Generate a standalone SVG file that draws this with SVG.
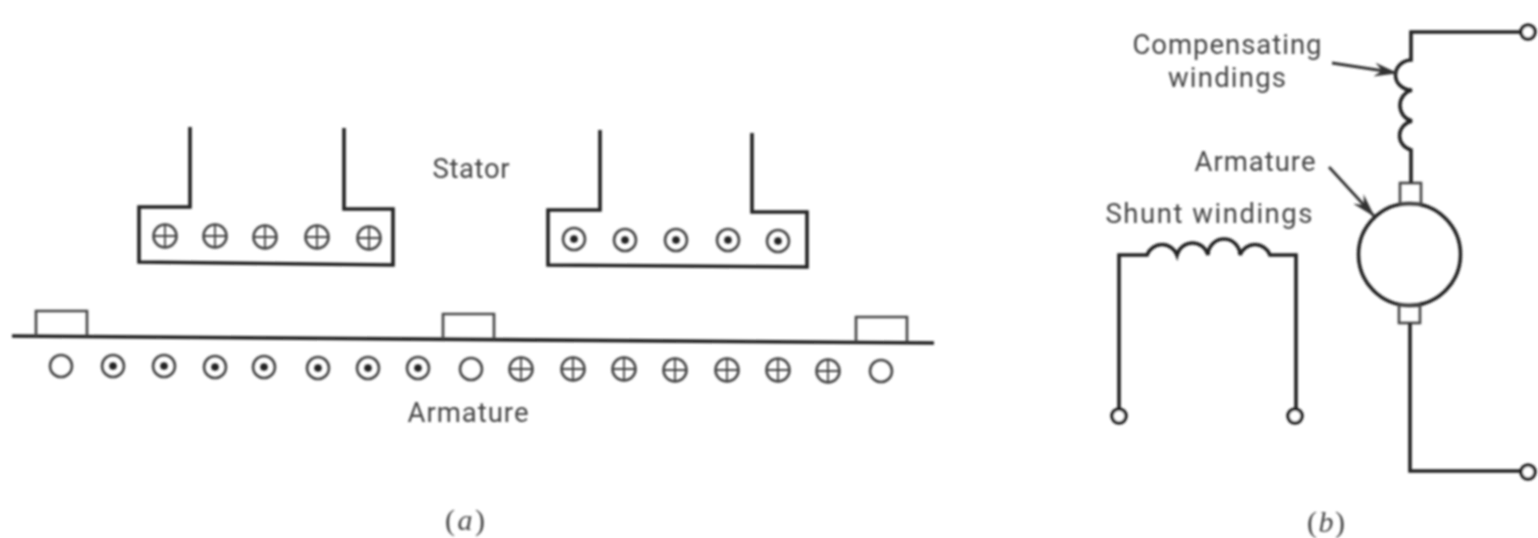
<svg xmlns="http://www.w3.org/2000/svg" width="1538" height="538" viewBox="0 0 1538 538">
<style>
.w{fill:none;stroke:#222;stroke-width:3.6;stroke-linejoin:miter}
.c{fill:none;stroke:#444;stroke-width:2.6}
.d{fill:#222}
.x{fill:none;stroke:#444;stroke-width:1.8}
.t{fill:#444;font-family:Roboto,"Liberation Sans",Arial,sans-serif;font-size:27.5px;text-anchor:middle}
.s{fill:#444;font-family:"Liberation Serif",serif;font-size:30px;text-anchor:middle}
.i{font-style:italic}
.arr{fill:none;stroke:#333;stroke-width:2.8}
.term{fill:#fff;stroke:#222;stroke-width:3.6}
</style>
<defs>
<g id="o"><circle r="11" class="c"/></g>
<g id="dot"><circle r="11" class="c"/><circle r="3.8" class="d"/></g>
<g id="plus"><circle r="11.5" class="c"/><path class="x" d="M-11,0H11M0,-11V11"/></g>
<marker id="ah" viewBox="0 0 24 14" refX="23" refY="7" markerWidth="24" markerHeight="14" markerUnits="userSpaceOnUse" orient="auto"><path d="M0,0L24,7L0,14L8,7Z" fill="#333"/></marker>
<filter id="soft" x="-2%" y="-2%" width="104%" height="104%"><feGaussianBlur stdDeviation="0.8"/></filter>
</defs>
<rect width="1538" height="538" fill="#fff"/>
<g filter="url(#soft)">
<g id="stator-left">
<path class="w" d="M190,127V207H139V262L393,265V209H344V128"/>
<use href="#plus" x="165" y="236"/><use href="#plus" x="215" y="236"/><use href="#plus" x="265" y="237"/><use href="#plus" x="317" y="237"/><use href="#plus" x="369" y="238"/>
</g>
<g id="stator-right">
<path class="w" d="M600,130V210H548V265L807,267V212H752V133"/>
<use href="#dot" x="574" y="239"/><use href="#dot" x="625" y="240"/><use href="#dot" x="676" y="240"/><use href="#dot" x="728" y="240"/><use href="#dot" x="778" y="241"/>
</g>
<g id="stator-label"><text class="t" x="471" y="178" textLength="77">Stator</text></g>
<g id="armature-bar">
<path class="w" d="M12,336L934,343"/>
<path class="c" d="M36,336V311H87V336M443,339V314H494V339M856,342V317H907V342"/>
</g>
<g id="armature-conductors">
<use href="#o" x="61" y="366"/>
<use href="#dot" x="113" y="366"/><use href="#dot" x="164" y="366"/><use href="#dot" x="215" y="367"/><use href="#dot" x="264" y="367"/><use href="#dot" x="318" y="368"/><use href="#dot" x="368" y="368"/><use href="#dot" x="418" y="368"/>
<use href="#o" x="471" y="369"/>
<use href="#plus" x="521" y="369"/><use href="#plus" x="573" y="369"/><use href="#plus" x="624" y="369"/><use href="#plus" x="675" y="370"/><use href="#plus" x="727" y="370"/><use href="#plus" x="778" y="370"/><use href="#plus" x="828" y="371"/>
<use href="#o" x="881" y="371"/>
</g>
<g id="armature-label"><text class="t" x="468" y="422" textLength="121">Armature</text></g>
<g id="caption-a"><text class="s" x="465" y="530" textLength="40">(<tspan class="i">a</tspan>)</text></g>
<g id="compensating-label"><text class="t" x="1227" y="54" textLength="189">Compensating</text><text class="t" x="1227" y="87" textLength="118">windings</text></g>
<g id="armature-b-label"><text class="t" x="1255" y="171" textLength="121">Armature</text></g>
<g id="shunt-label"><text class="t" x="1209" y="223" textLength="207">Shunt windings</text></g>
<g id="caption-b"><text class="s" x="1326" y="532" textLength="38">(<tspan class="i">b</tspan>)</text></g>
<g id="armature-motor">
<circle cx="1409.5" cy="254.5" r="51" fill="none" stroke="#222" stroke-width="3.6"/>
<rect x="1400" y="183" width="21" height="21" class="c"/>
<rect x="1399" y="305" width="21" height="18" class="c"/>
</g>
<g id="terminal-top"><circle class="term" cx="1528" cy="32" r="7"/></g>
<g id="terminal-bottom"><circle class="term" cx="1528" cy="472" r="7"/></g>
<g id="terminal-shunt-left"><circle class="term" cx="1119" cy="416" r="7"/></g>
<g id="terminal-shunt-right"><circle class="term" cx="1295" cy="416" r="7"/></g>
<g id="connectors">
<path class="w" d="M1521,32H1411V60A16,15 0 0 0 1412,90A16,16 0 0 0 1412,121A16,15 0 0 0 1411,150V183"/>
<path class="w" d="M1410,323V471H1521"/>
<path class="w" d="M1119,409V255H1147A16,16 0 0 1 1177,255A16,16 0 0 1 1208,255A16,16 0 0 1 1240,255A16,16 0 0 1 1270,255H1296V409"/>
<path class="arr" marker-end="url(#ah)" d="M1332,63L1397,73"/>
<path class="arr" marker-end="url(#ah)" d="M1329,167L1374,216"/>
</g>
</g>
</svg>
